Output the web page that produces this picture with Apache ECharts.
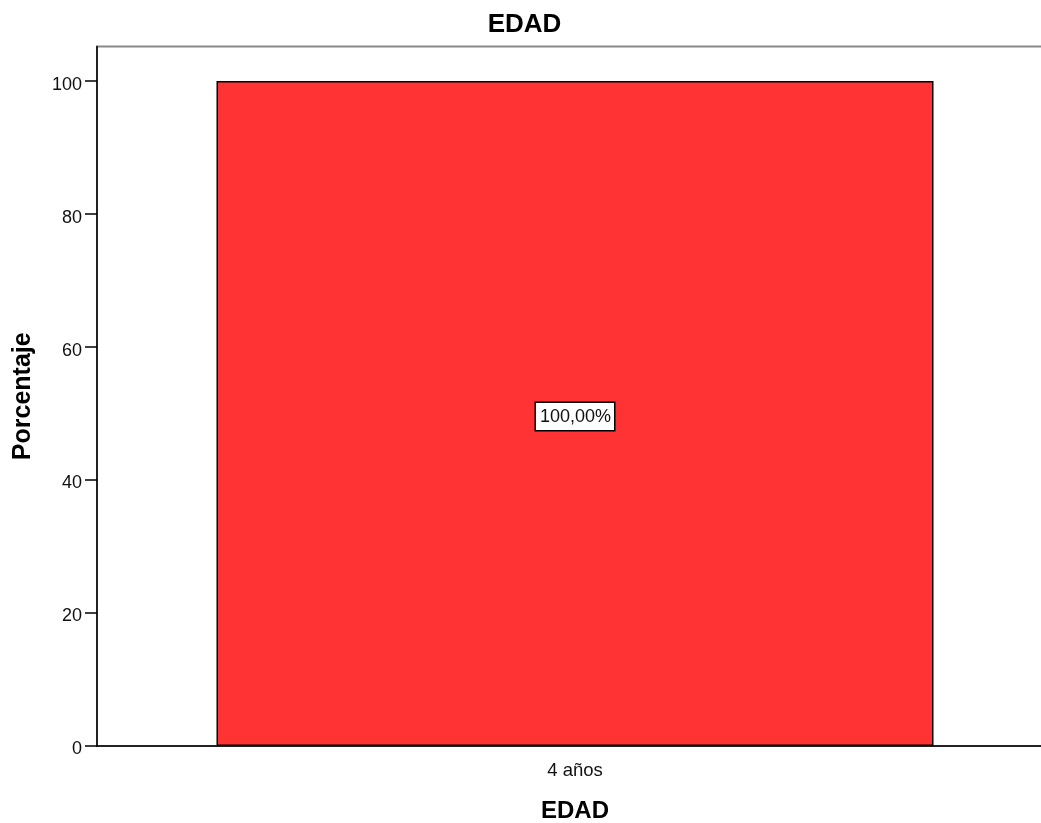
<!DOCTYPE html>
<html>
<head>
<meta charset="utf-8">
<style>html,body{margin:0;padding:0;background:#fff;}#c{width:1041px;height:823px;}</style>
<script src="https://cdn.jsdelivr.net/npm/echarts@6/dist/echarts.min.js"></script>
</head>
<body>
<div id="c"></div>
<script>
var categories = ['4 años'];
var percentValues = [100];
var yTickValues = [0, 20, 40, 60, 80, 100];
var titleText = 'EDAD';
var xName = 'EDAD';
var yName = 'Porcentaje';

var chart = echarts.init(document.getElementById('c'), null, {renderer: 'canvas'});
var FONT = 'Liberation Sans, Arial, sans-serif';
chart.setOption({
  animation: false,
  backgroundColor: '#fff',
  graphic: [{
    type: 'text',
    x: 524.5,
    y: 25,
    style: {
      text: titleText,
      textAlign: 'center',
      textVerticalAlign: 'middle',
      fontFamily: FONT, fontSize: 26, fontWeight: 'bold', fill: '#000'
    }
  }],
  grid: {
    left: 97, top: 46.5, right: -12, bottom: 77,
    outerBoundsMode: 'none',
    show: true, borderColor: '#888', borderWidth: 2, backgroundColor: 'transparent'
  },
  xAxis: {
    type: 'category',
    data: categories,
    name: xName,
    nameLocation: 'middle',
    nameGap: 53,
    nameTextStyle: {fontFamily: FONT, fontSize: 24, fontWeight: 'bold', color: '#000'},
    axisLine: {lineStyle: {color: '#000', width: 1.5}},
    axisTick: {alignWithLabel: true, length: 11, lineStyle: {color: '#000', width: 1.5}},
    axisLabel: {margin: 15, fontFamily: FONT, fontSize: 18.5, color: '#111'}
  },
  yAxis: {
    type: 'value',
    min: 0,
    max: 105.2,
    name: yName,
    nameLocation: 'middle',
    nameGap: 61,
    nameTextStyle: {fontFamily: FONT, fontSize: 25, fontWeight: 'bold', color: '#000'},
    axisLine: {show: true, lineStyle: {color: '#000', width: 1.5}},
    axisTick: {show: true, length: 12, customValues: yTickValues, lineStyle: {color: '#000', width: 1.5}},
    axisLabel: {
      margin: 15, customValues: yTickValues,
      formatter: function (v) { return '{a|' + v + '}'; },
      rich: {a: {fontFamily: FONT, fontSize: 18, color: '#111', padding: [7, 0, 0, 0]}}
    },
    splitLine: {show: false}
  },
  series: [{
    type: 'bar',
    data: percentValues,
    barWidth: 717,
    itemStyle: {color: '#FF3333', borderColor: '#000', borderWidth: 1.5},
    label: {
      show: true,
      position: 'inside',
      offset: [0, 3],
      formatter: function (p) { return p.value.toFixed(2).replace('.', ',') + '%'; },
      fontFamily: FONT, fontSize: 18, color: '#111',
      backgroundColor: '#fff', borderColor: '#000', borderWidth: 1.5,
      padding: [5, 3, 4, 4]
    }
  }]
});
</script>
</body>
</html>
